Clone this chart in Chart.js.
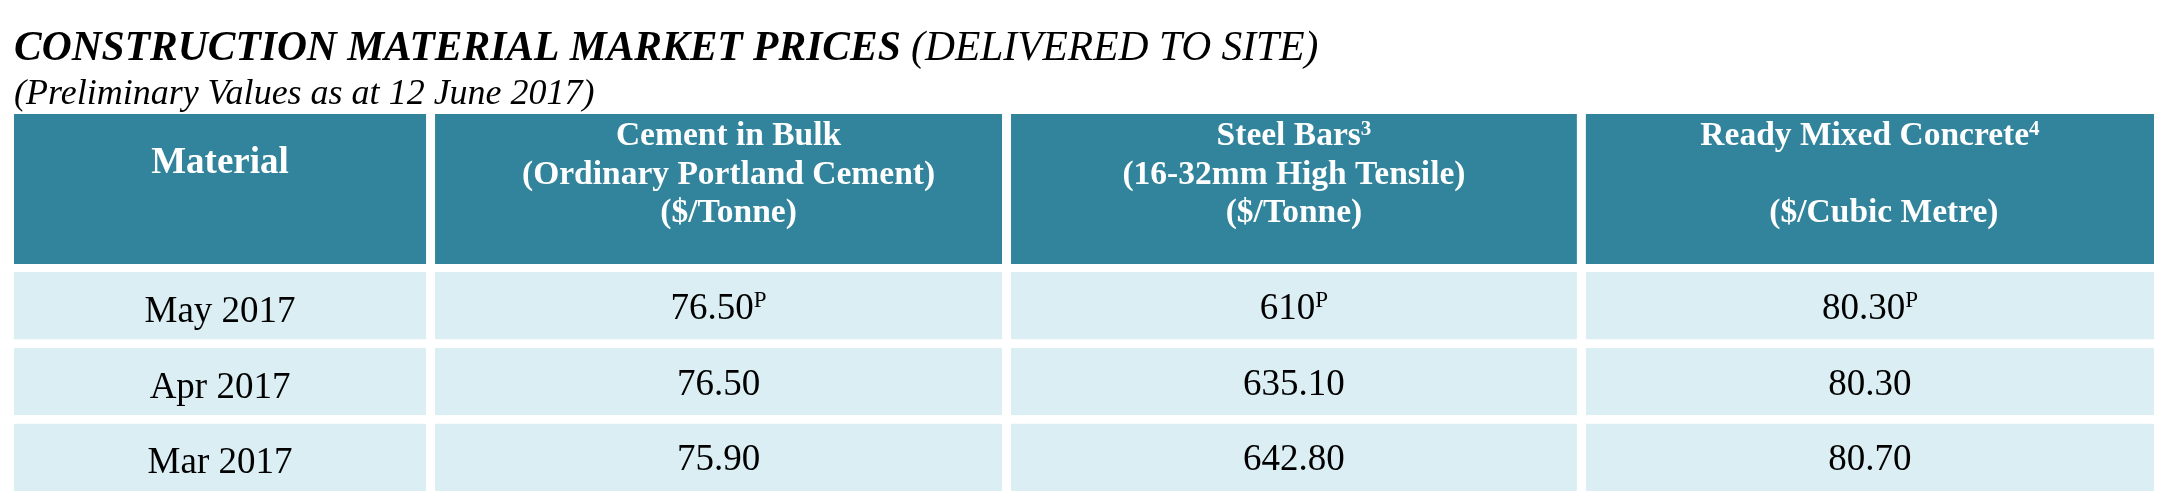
<!DOCTYPE html>
<html>
<head>
<meta charset="utf-8">
<script src="https://cdn.jsdelivr.net/npm/chart.js@4"></script>
<style>
  html, body { margin: 0; padding: 0; background: #ffffff; }
  #wrap { position: relative; width: 2163px; height: 498px; overflow: hidden; }
  #headBox { position: absolute; left: 0; top: 0; width: 2163px; height: 268px; }
  #bodyBox { position: absolute; left: 0; top: 268px; width: 2163px; height: 230px; }
</style>
</head>
<body>
<div id="wrap">
  <div id="headBox"><canvas id="headChart"></canvas></div>
  <div id="bodyBox"><canvas id="bodyChart"></canvas></div>
</div>
<script>
// ---------- DATA ----------
const titleMain = 'CONSTRUCTION MATERIAL MARKET PRICES';
const titleNote = '(DELIVERED TO SITE)';
const subtitleText = '(Preliminary Values as at 12 June 2017)';
const firstHeader = 'Material';
const materialNames = ['Cement in Bulk', 'Steel Bars', 'Ready Mixed Concrete'];
const materialSpecs = ['(Ordinary Portland Cement)', '(16-32mm High Tensile)', ''];
const materialUnits = ['($/Tonne)', '($/Tonne)', '($/Cubic Metre)'];
const footnoteRefs = ['', '3', '4'];
const months = ['May 2017', 'Apr 2017', 'Mar 2017'];
const cementPrices = [76.50, 76.50, 75.90];
const steelPrices = [610, 635.10, 642.80];
const concretePrices = [80.30, 80.30, 80.70];
const preliminary = [true, false, false];
const prelimMark = 'P';

// ---------- LAYOUT / STYLE ----------
const COLUMN_SPANS = [0.731, 1, 0.998, 1.002];
const SPAN_TOTAL = COLUMN_SPANS.reduce((a, b) => a + b, 0);
const HEADER_NAME_NUDGE = [0, 10, 0, 0];
const HEADER_UNIT_NUDGE = [0, 10, 0, 14];
const HEADER_BG = '#31849B';
const ROW_BG = '#DAEEF3';
const GAP = 4.5;
const FONT = '"Liberation Serif", "Times New Roman", serif';

const priceSeries = [cementPrices, steelPrices, concretePrices];
const fmt = v => Number.isInteger(v) ? String(v) : v.toFixed(2);

function drawWithSup(ctx, text, sup, cx, baseline, font, supFont, rise, color) {
  ctx.save();
  ctx.fillStyle = color;
  ctx.textAlign = 'left';
  ctx.textBaseline = 'alphabetic';
  ctx.font = font;
  const w = ctx.measureText(text).width;
  let sw = 0;
  if (sup) { ctx.font = supFont; sw = ctx.measureText(sup).width; }
  const x = cx - (w + sw) / 2;
  ctx.font = font;
  ctx.fillText(text, x, baseline);
  if (sup) { ctx.font = supFont; ctx.fillText(sup, x + w, baseline - rise); }
  ctx.restore();
}

function cellBox(el) {
  const p = el.getProps(['x', 'y', 'base', 'height'], true);
  return { cx: (p.x + p.base) / 2, cy: p.y, top: p.y - p.height / 2, h: p.height };
}

function columnDatasets(rowCount, color) {
  return COLUMN_SPANS.map((span, i) => ({
    label: i === 0 ? firstHeader : materialNames[i - 1],
    data: Array.from({ length: rowCount }, () => span),
    backgroundColor: color,
    borderColor: '#ffffff',
    borderWidth: { left: GAP, right: GAP, top: 0, bottom: 0 },
    borderSkipped: false,
    inflateAmount: 0
  }));
}

const commonScales = {
  x: { stacked: true, min: 0, max: SPAN_TOTAL, display: false, grid: { display: false } },
  y: { stacked: true, display: false, grid: { display: false } }
};

// ---------- HEADER CHART ----------
const headerText = {
  id: 'headerText',
  afterDatasetsDraw(chart) {
    const ctx = chart.ctx;
    const area = chart.chartArea;
    // Title
    ctx.save();
    ctx.fillStyle = '#000000';
    ctx.textAlign = 'left';
    ctx.textBaseline = 'alphabetic';
    ctx.font = 'italic bold 41.5px ' + FONT;
    const tx = area.left + GAP;
    ctx.fillText(titleMain, tx, area.top - 54);
    const w1 = ctx.measureText(titleMain + ' ').width;
    ctx.font = 'italic 41.5px ' + FONT;
    ctx.fillText(titleNote, tx + w1, area.top - 54);
    ctx.font = 'italic 36px ' + FONT;
    ctx.fillText(subtitleText, tx, area.top - 10);
    ctx.restore();

    chart.data.datasets.forEach((ds, i) => {
      const el = chart.getDatasetMeta(i).data[0];
      const b = cellBox(el);
      if (i === 0) {
        drawWithSup(ctx, firstHeader, '', b.cx, b.top + 59, 'bold 37px ' + FONT, '', 0, '#ffffff');
      } else {
        const k = i - 1;
        const cxName = b.cx + HEADER_NAME_NUDGE[i];
        const cxUnit = b.cx + HEADER_UNIT_NUDGE[i];
        drawWithSup(ctx, materialNames[k], footnoteRefs[k], cxName, b.top + 31,
          'bold 33.5px ' + FONT, 'bold 21px ' + FONT, 10, '#ffffff');
        if (materialSpecs[k]) {
          drawWithSup(ctx, materialSpecs[k], '', cxName, b.top + 70, 'bold 33.5px ' + FONT, '', 0, '#ffffff');
        }
        drawWithSup(ctx, materialUnits[k], '', cxUnit, b.top + 108, 'bold 33.5px ' + FONT, '', 0, '#ffffff');
      }
    });
  }
};

new Chart(document.getElementById('headChart'), {
  type: 'bar',
  data: { labels: [firstHeader], datasets: columnDatasets(1, HEADER_BG) },
  options: {
    indexAxis: 'y',
    responsive: true,
    maintainAspectRatio: false,
    animation: false,
    events: [],
    layout: { padding: { left: 14 - GAP, right: 2163 - 2154 - GAP, top: 114, bottom: 4 } },
    datasets: { bar: { categoryPercentage: 1, barPercentage: 1 } },
    scales: commonScales,
    plugins: { legend: { display: false }, tooltip: { enabled: false }, title: { display: false } }
  },
  plugins: [headerText]
});

// ---------- BODY CHART ----------
const bodyText = {
  id: 'bodyText',
  afterDatasetsDraw(chart) {
    const ctx = chart.ctx;
    chart.data.datasets.forEach((ds, i) => {
      chart.getDatasetMeta(i).data.forEach((el, r) => {
        const b = cellBox(el);
        if (i === 0) {
          drawWithSup(ctx, months[r], '', b.cx, b.cy + 16, '37px ' + FONT, '', 0, '#000000');
        } else {
          const v = priceSeries[i - 1][r];
          drawWithSup(ctx, fmt(v), preliminary[r] ? prelimMark : '', b.cx, b.cy + 13,
            '37px ' + FONT, '23px ' + FONT, 12, '#000000');
        }
      });
    });
  }
};

new Chart(document.getElementById('bodyChart'), {
  type: 'bar',
  data: { labels: months, datasets: columnDatasets(months.length, ROW_BG) },
  options: {
    indexAxis: 'y',
    responsive: true,
    maintainAspectRatio: false,
    animation: false,
    events: [],
    layout: { padding: { left: 14 - GAP, right: 2163 - 2154 - GAP, top: 0, bottom: 3 } },
    datasets: { bar: { categoryPercentage: 0.892, barPercentage: 1 } },
    scales: commonScales,
    plugins: { legend: { display: false }, tooltip: { enabled: false }, title: { display: false } }
  },
  plugins: [bodyText]
});
</script>
</body>
</html>
